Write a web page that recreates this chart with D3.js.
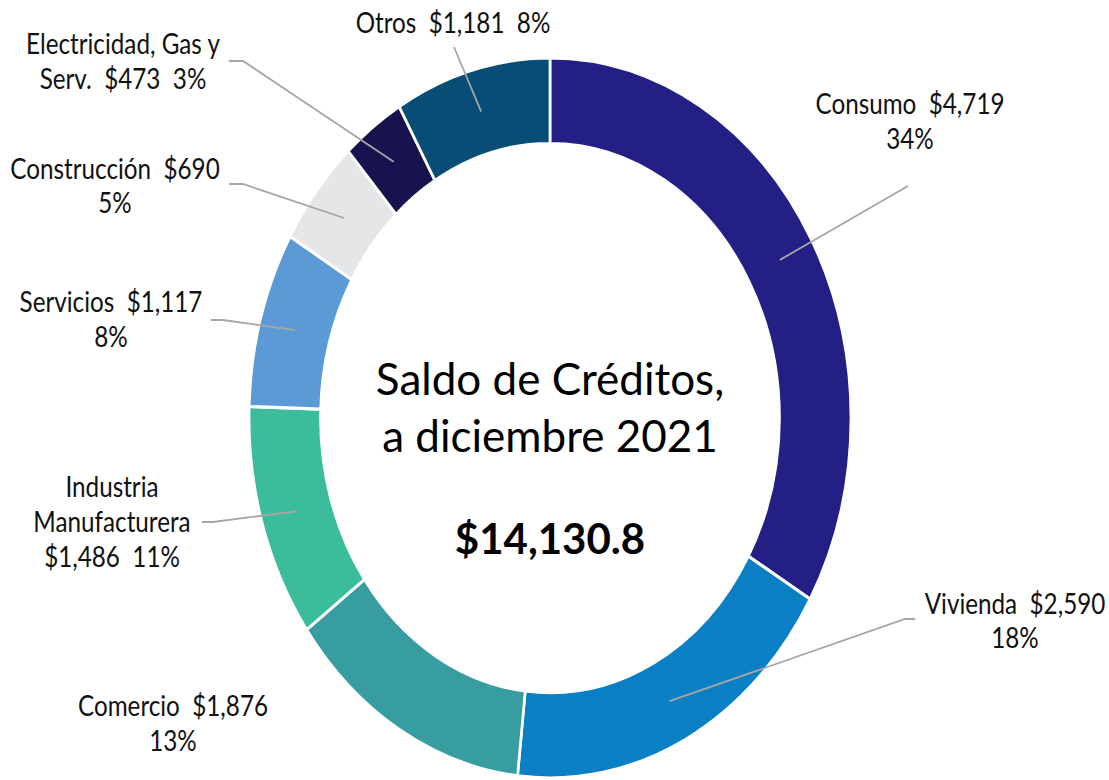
<!DOCTYPE html>
<html>
<head>
<meta charset="utf-8">
<script src="https://cdn.jsdelivr.net/npm/d3@7"></script>
<style>
  html, body { margin: 0; padding: 0; background: #ffffff; }
  svg { display: block; }
  text { white-space: pre; }
</style>
</head>
<body>
<svg id="chart" width="1109" height="780"></svg>
<script>
// ---- Data ----
const categories = ["Consumo", "Vivienda", "Comercio", "Industria Manufacturera", "Servicios", "Construcción", "Electricidad, Gas y Serv.", "Otros"];
const values = [4719, 2590, 1876, 1486, 1117, 690, 473, 1181];
const valueLabels = ["$4,719", "$2,590", "$1,876", "$1,486", "$1,117", "$690", "$473", "$1,181"];
const percentLabels = ["34%", "18%", "13%", "11%", "8%", "5%", "3%", "8%"];
const colors = ["#231f84", "#0a7fc3", "#379da1", "#3bbd9b", "#5b9ad6", "#e5e6e8", "#16134f", "#074d75"];
// label text lines (as printed in the chart)
const labelLines = [
  ["Consumo  $4,719", "34%"],
  ["Vivienda  $2,590", "18%"],
  ["Comercio  $1,876", "13%"],
  ["Industria", "Manufacturera", "$1,486  11%"],
  ["Servicios  $1,117", "8%"],
  ["Construcción  $690", "5%"],
  ["Electricidad, Gas y", "Serv.  $473  3%"],
  ["Otros  $1,181  8%"]
];
const centerTitle = ["Saldo de Créditos,", "a diciembre 2021"];
const centerTotal = "$14,130.8";

// ---- Layout ----
const W = 1109, H = 780;
const cx = 550, cy = 418;
const outerR = 360, innerR = 274.5;
const sx = 0.836; // horizontal squeeze of the original picture

// label placement: centre x, baselines, leader points (screen coords)
const labelLayout = [
  { x: 910, y: [114, 149], leader: [[908, 186]] },
  { x: 1015, y: [614, 648], leader: [[915, 619], [905, 619]] },
  { x: 173, y: [716, 751], leader: null },
  { x: 112, y: [497, 532, 567], leader: [[202, 522], [213, 522]] },
  { x: 111, y: [312, 347], leader: [[211, 320], [223, 320]] },
  { x: 115, y: [179, 213], leader: [[229, 184], [243, 184]] },
  { x: 123, y: [54, 89], leader: [[229, 61], [243, 61]] },
  { x: 453, y: [33], leader: [[454, 47]] }
];

const svg = d3.select("#chart");
svg.append("rect").attr("width", W).attr("height", H).attr("fill", "#ffffff");

const pie = d3.pie().sort(null).value(d => d);
const arcs = pie(values);
const arc = d3.arc().innerRadius(innerR).outerRadius(outerR);

const ring = svg.append("g")
  .attr("transform", `translate(${cx},${cy}) scale(${sx},1)`);

ring.selectAll("path")
  .data(arcs)
  .join("path")
  .attr("d", arc)
  .attr("fill", (d, i) => colors[i])
  .attr("stroke", "#ffffff")
  .attr("stroke-width", 3.2)
  .attr("stroke-linejoin", "miter");

// leader lines
const line = d3.line();
const leaders = svg.append("g");
arcs.forEach((d, i) => {
  const lay = labelLayout[i];
  if (!lay.leader) return;
  const c = arc.centroid(d);
  const end = [cx + c[0] * sx, cy + c[1]];
  const pts = lay.leader.concat([end]);
  leaders.append("path")
    .attr("d", line(pts))
    .attr("fill", "none")
    .attr("stroke", "#a6a6a6")
    .attr("stroke-width", 1.8);
});

// category labels
const labels = svg.append("g");
labelLines.forEach((lines, i) => {
  const lay = labelLayout[i];
  lines.forEach((t, j) => {
    labels.append("text")
      .attr("transform", `translate(${lay.x},${lay.y[j]}) scale(${sx},1)`)
      .attr("text-anchor", "middle")
      .attr("font-family", "Lato, 'Open Sans', sans-serif")
      .attr("font-size", 29)
      .attr("fill", "#111111")
      .text(t);
  });
});

// centre text
const center = svg.append("g");
const titleBaselines = [395, 452];
centerTitle.forEach((t, j) => {
  center.append("text")
    .attr("x", cx)
    .attr("y", titleBaselines[j])
    .attr("text-anchor", "middle")
    .attr("font-family", "Lato, 'Open Sans', sans-serif")
    .attr("font-size", 44)
    .attr("fill", "#000000")
    .text(t);
});
center.append("text")
  .attr("x", cx)
  .attr("y", 554)
  .attr("text-anchor", "middle")
  .attr("font-family", "Lato, 'Open Sans', sans-serif")
  .attr("font-weight", "bold")
  .attr("font-size", 42)
  .attr("fill", "#000000")
  .text(centerTotal);
</script>
</body>
</html>
